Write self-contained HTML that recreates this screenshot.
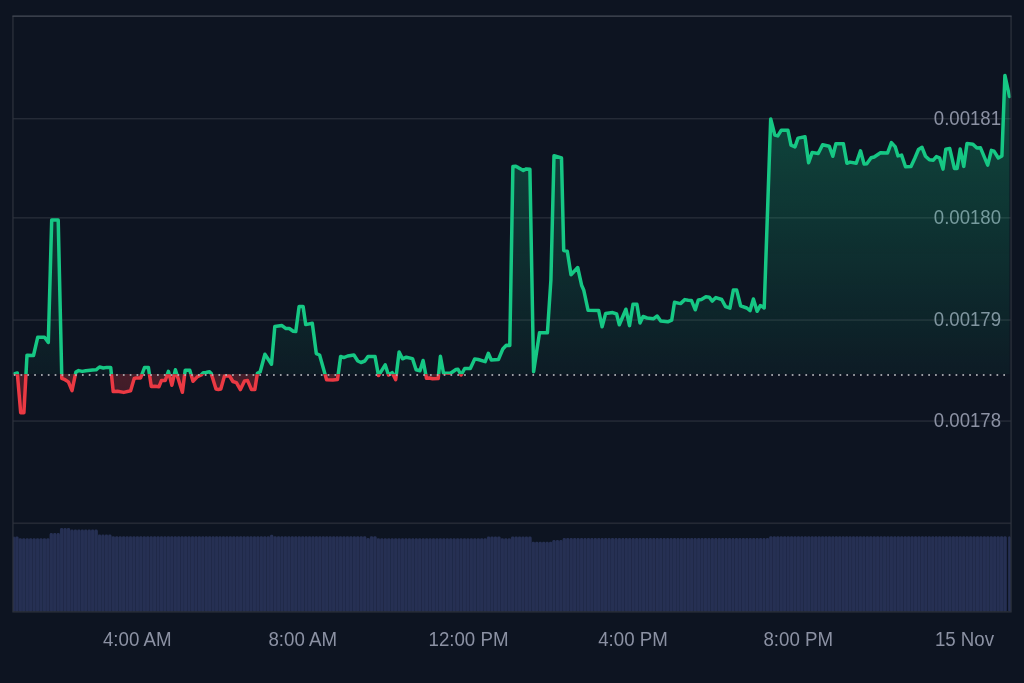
<!DOCTYPE html>
<html><head><meta charset="utf-8"><style>
html,body{margin:0;padding:0;background:#0d1421;width:1024px;height:683px;overflow:hidden}
svg{display:block}
text{font-family:"Liberation Sans",sans-serif;fill:#8b91a3}
.t{will-change:transform}
</style></head><body>
<svg width="1024" height="683" viewBox="0 0 1024 683">
<defs>
<linearGradient id="gf" gradientUnits="userSpaceOnUse" x1="0" y1="16" x2="0" y2="374">
<stop offset="0" stop-color="#16c784" stop-opacity="0.36"/>
<stop offset="1" stop-color="#16c784" stop-opacity="0.045"/>
</linearGradient>
<linearGradient id="rf" gradientUnits="userSpaceOnUse" x1="0" y1="374" x2="0" y2="523">
<stop offset="0" stop-color="#ea3943" stop-opacity="0.26"/>
<stop offset="1" stop-color="#ea3943" stop-opacity="0.06"/>
</linearGradient>
<clipPath id="ca"><rect x="13" y="0" width="998" height="374"/></clipPath>
<clipPath id="cb"><rect x="13" y="374" width="998" height="149"/></clipPath>
<clipPath id="la"><rect x="0" y="0" width="1024" height="374.2"/></clipPath>
<clipPath id="lb"><rect x="0" y="374.2" width="1024" height="148.8"/></clipPath>
</defs>
<rect width="1024" height="683" fill="#0d1421"/>
<g fill="#292e3a"><rect x="13" y="118.1" width="998" height="1.3"/><rect x="13" y="217.2" width="998" height="1.3"/><rect x="13" y="319.4" width="998" height="1.3"/><rect x="13" y="420.4" width="998" height="1.3"/></g>
<rect x="13" y="522.4" width="998" height="1.7" fill="#242934"/>
<g class="t"><text transform="translate(1001 124.6) scale(1 1.05)" text-anchor="end" font-size="18.6">0.00181</text><text transform="translate(1001 223.7) scale(1 1.05)" text-anchor="end" font-size="18.6">0.00180</text><text transform="translate(1001 325.9) scale(1 1.05)" text-anchor="end" font-size="18.6">0.00179</text><text transform="translate(1001 426.9) scale(1 1.05)" text-anchor="end" font-size="18.6">0.00178</text></g>
<g fill="#222b4a"><rect x="13" y="537.6" width="2.16" height="73.6"/><rect x="15.16" y="537.6" width="3.44" height="73.6"/><rect x="18.6" y="539.4" width="3.44" height="71.8"/><rect x="22.05" y="539.4" width="3.44" height="71.8"/><rect x="25.49" y="539.4" width="3.44" height="71.8"/><rect x="28.93" y="539.4" width="3.44" height="71.8"/><rect x="32.38" y="539.4" width="3.44" height="71.8"/><rect x="35.82" y="539.4" width="3.44" height="71.8"/><rect x="39.26" y="539.4" width="3.44" height="71.8"/><rect x="42.71" y="539.4" width="3.44" height="71.8"/><rect x="46.15" y="539.4" width="3.44" height="71.8"/><rect x="49.59" y="534.3" width="3.44" height="76.9"/><rect x="53.03" y="534.3" width="3.44" height="76.9"/><rect x="56.48" y="534.3" width="3.44" height="76.9"/><rect x="59.92" y="529.2" width="3.44" height="82"/><rect x="63.36" y="529.2" width="3.44" height="82"/><rect x="66.81" y="529.2" width="3.44" height="82"/><rect x="70.25" y="530.8" width="3.44" height="80.4"/><rect x="73.69" y="530.8" width="3.44" height="80.4"/><rect x="77.14" y="530.8" width="3.44" height="80.4"/><rect x="80.58" y="530.8" width="3.44" height="80.4"/><rect x="84.02" y="530.8" width="3.44" height="80.4"/><rect x="87.46" y="530.8" width="3.44" height="80.4"/><rect x="90.91" y="530.8" width="3.44" height="80.4"/><rect x="94.35" y="530.8" width="3.44" height="80.4"/><rect x="97.79" y="535.8" width="3.44" height="75.4"/><rect x="101.24" y="535.8" width="3.44" height="75.4"/><rect x="104.68" y="535.8" width="3.44" height="75.4"/><rect x="108.12" y="535.8" width="3.44" height="75.4"/><rect x="111.57" y="537.4" width="3.44" height="73.8"/><rect x="115.01" y="537.4" width="3.44" height="73.8"/><rect x="118.45" y="537.4" width="3.44" height="73.8"/><rect x="121.89" y="537.4" width="3.44" height="73.8"/><rect x="125.34" y="537.4" width="3.44" height="73.8"/><rect x="128.78" y="537.4" width="3.44" height="73.8"/><rect x="132.22" y="537.4" width="3.44" height="73.8"/><rect x="135.67" y="537.4" width="3.44" height="73.8"/><rect x="139.11" y="537.4" width="3.44" height="73.8"/><rect x="142.55" y="537.4" width="3.44" height="73.8"/><rect x="146" y="537.4" width="3.44" height="73.8"/><rect x="149.44" y="537.4" width="3.44" height="73.8"/><rect x="152.88" y="537.4" width="3.44" height="73.8"/><rect x="156.32" y="537.4" width="3.44" height="73.8"/><rect x="159.77" y="537.4" width="3.44" height="73.8"/><rect x="163.21" y="537.4" width="3.44" height="73.8"/><rect x="166.65" y="537.4" width="3.44" height="73.8"/><rect x="170.1" y="537.4" width="3.44" height="73.8"/><rect x="173.54" y="537.4" width="3.44" height="73.8"/><rect x="176.98" y="537.4" width="3.44" height="73.8"/><rect x="180.43" y="537.4" width="3.44" height="73.8"/><rect x="183.87" y="537.4" width="3.44" height="73.8"/><rect x="187.31" y="537.4" width="3.44" height="73.8"/><rect x="190.75" y="537.4" width="3.44" height="73.8"/><rect x="194.2" y="537.4" width="3.44" height="73.8"/><rect x="197.64" y="537.4" width="3.44" height="73.8"/><rect x="201.08" y="537.4" width="3.44" height="73.8"/><rect x="204.53" y="537.4" width="3.44" height="73.8"/><rect x="207.97" y="537.4" width="3.44" height="73.8"/><rect x="211.41" y="537.4" width="3.44" height="73.8"/><rect x="214.86" y="537.4" width="3.44" height="73.8"/><rect x="218.3" y="537.4" width="3.44" height="73.8"/><rect x="221.74" y="537.4" width="3.44" height="73.8"/><rect x="225.18" y="537.4" width="3.44" height="73.8"/><rect x="228.63" y="537.4" width="3.44" height="73.8"/><rect x="232.07" y="537.4" width="3.44" height="73.8"/><rect x="235.51" y="537.4" width="3.44" height="73.8"/><rect x="238.96" y="537.4" width="3.44" height="73.8"/><rect x="242.4" y="537.4" width="3.44" height="73.8"/><rect x="245.84" y="537.4" width="3.44" height="73.8"/><rect x="249.29" y="537.4" width="3.44" height="73.8"/><rect x="252.73" y="537.4" width="3.44" height="73.8"/><rect x="256.17" y="537.4" width="3.44" height="73.8"/><rect x="259.61" y="537.4" width="3.44" height="73.8"/><rect x="263.06" y="537.4" width="3.44" height="73.8"/><rect x="266.5" y="537.4" width="3.44" height="73.8"/><rect x="269.94" y="536" width="3.44" height="75.2"/><rect x="273.39" y="537.5" width="3.44" height="73.7"/><rect x="276.83" y="537.5" width="3.44" height="73.7"/><rect x="280.27" y="537.5" width="3.44" height="73.7"/><rect x="283.72" y="537.5" width="3.44" height="73.7"/><rect x="287.16" y="537.5" width="3.44" height="73.7"/><rect x="290.6" y="537.5" width="3.44" height="73.7"/><rect x="294.04" y="537.5" width="3.44" height="73.7"/><rect x="297.49" y="537.5" width="3.44" height="73.7"/><rect x="300.93" y="537.5" width="3.44" height="73.7"/><rect x="304.37" y="537.5" width="3.44" height="73.7"/><rect x="307.82" y="537.5" width="3.44" height="73.7"/><rect x="311.26" y="537.5" width="3.44" height="73.7"/><rect x="314.7" y="537.5" width="3.44" height="73.7"/><rect x="318.15" y="537.5" width="3.44" height="73.7"/><rect x="321.59" y="537.5" width="3.44" height="73.7"/><rect x="325.03" y="537.5" width="3.44" height="73.7"/><rect x="328.47" y="537.5" width="3.44" height="73.7"/><rect x="331.92" y="537.5" width="3.44" height="73.7"/><rect x="335.36" y="537.5" width="3.44" height="73.7"/><rect x="338.8" y="537.5" width="3.44" height="73.7"/><rect x="342.25" y="537.5" width="3.44" height="73.7"/><rect x="345.69" y="537.5" width="3.44" height="73.7"/><rect x="349.13" y="537.5" width="3.44" height="73.7"/><rect x="352.58" y="537.5" width="3.44" height="73.7"/><rect x="356.02" y="537.5" width="3.44" height="73.7"/><rect x="359.46" y="537.5" width="3.44" height="73.7"/><rect x="362.9" y="537.5" width="3.44" height="73.7"/><rect x="366.35" y="539.2" width="3.44" height="72"/><rect x="369.79" y="537.5" width="3.44" height="73.7"/><rect x="373.23" y="537.5" width="3.44" height="73.7"/><rect x="376.68" y="539.5" width="3.44" height="71.7"/><rect x="380.12" y="539.5" width="3.44" height="71.7"/><rect x="383.56" y="539.5" width="3.44" height="71.7"/><rect x="387.01" y="539.5" width="3.44" height="71.7"/><rect x="390.45" y="539.5" width="3.44" height="71.7"/><rect x="393.89" y="539.5" width="3.44" height="71.7"/><rect x="397.33" y="539.5" width="3.44" height="71.7"/><rect x="400.78" y="539.5" width="3.44" height="71.7"/><rect x="404.22" y="539.5" width="3.44" height="71.7"/><rect x="407.66" y="539.5" width="3.44" height="71.7"/><rect x="411.11" y="539.5" width="3.44" height="71.7"/><rect x="414.55" y="539.5" width="3.44" height="71.7"/><rect x="417.99" y="539.5" width="3.44" height="71.7"/><rect x="421.44" y="539.5" width="3.44" height="71.7"/><rect x="424.88" y="539.5" width="3.44" height="71.7"/><rect x="428.32" y="539.5" width="3.44" height="71.7"/><rect x="431.76" y="539.5" width="3.44" height="71.7"/><rect x="435.21" y="539.5" width="3.44" height="71.7"/><rect x="438.65" y="539.5" width="3.44" height="71.7"/><rect x="442.09" y="539.5" width="3.44" height="71.7"/><rect x="445.54" y="539.5" width="3.44" height="71.7"/><rect x="448.98" y="539.5" width="3.44" height="71.7"/><rect x="452.42" y="539.5" width="3.44" height="71.7"/><rect x="455.87" y="539.5" width="3.44" height="71.7"/><rect x="459.31" y="539.5" width="3.44" height="71.7"/><rect x="462.75" y="539.5" width="3.44" height="71.7"/><rect x="466.19" y="539.5" width="3.44" height="71.7"/><rect x="469.64" y="539.5" width="3.44" height="71.7"/><rect x="473.08" y="539.5" width="3.44" height="71.7"/><rect x="476.52" y="539.5" width="3.44" height="71.7"/><rect x="479.97" y="539.5" width="3.44" height="71.7"/><rect x="483.41" y="539.5" width="3.44" height="71.7"/><rect x="486.85" y="537.6" width="3.44" height="73.6"/><rect x="490.3" y="537.6" width="3.44" height="73.6"/><rect x="493.74" y="537.6" width="3.44" height="73.6"/><rect x="497.18" y="537.6" width="3.44" height="73.6"/><rect x="500.62" y="539.5" width="3.44" height="71.7"/><rect x="504.07" y="539.5" width="3.44" height="71.7"/><rect x="507.51" y="539.5" width="3.44" height="71.7"/><rect x="510.95" y="537.6" width="3.44" height="73.6"/><rect x="514.4" y="537.6" width="3.44" height="73.6"/><rect x="517.84" y="537.6" width="3.44" height="73.6"/><rect x="521.28" y="537.6" width="3.44" height="73.6"/><rect x="524.73" y="537.6" width="3.44" height="73.6"/><rect x="528.17" y="537.6" width="3.44" height="73.6"/><rect x="531.61" y="542.9" width="3.44" height="68.3"/><rect x="535.05" y="542.9" width="3.44" height="68.3"/><rect x="538.5" y="542.9" width="3.44" height="68.3"/><rect x="541.94" y="542.9" width="3.44" height="68.3"/><rect x="545.38" y="542.9" width="3.44" height="68.3"/><rect x="548.83" y="542.9" width="3.44" height="68.3"/><rect x="552.27" y="541.2" width="3.44" height="70"/><rect x="555.71" y="541.2" width="3.44" height="70"/><rect x="559.16" y="541.2" width="3.44" height="70"/><rect x="562.6" y="539.3" width="3.44" height="71.9"/><rect x="566.04" y="539.3" width="3.44" height="71.9"/><rect x="569.48" y="539.3" width="3.44" height="71.9"/><rect x="572.93" y="539.3" width="3.44" height="71.9"/><rect x="576.37" y="539.3" width="3.44" height="71.9"/><rect x="579.81" y="539.3" width="3.44" height="71.9"/><rect x="583.26" y="539.3" width="3.44" height="71.9"/><rect x="586.7" y="539.3" width="3.44" height="71.9"/><rect x="590.14" y="539.3" width="3.44" height="71.9"/><rect x="593.59" y="539.3" width="3.44" height="71.9"/><rect x="597.03" y="539.3" width="3.44" height="71.9"/><rect x="600.47" y="539.3" width="3.44" height="71.9"/><rect x="603.91" y="539.3" width="3.44" height="71.9"/><rect x="607.36" y="539.3" width="3.44" height="71.9"/><rect x="610.8" y="539.3" width="3.44" height="71.9"/><rect x="614.24" y="539.3" width="3.44" height="71.9"/><rect x="617.69" y="539.3" width="3.44" height="71.9"/><rect x="621.13" y="539.3" width="3.44" height="71.9"/><rect x="624.57" y="539.3" width="3.44" height="71.9"/><rect x="628.02" y="539.3" width="3.44" height="71.9"/><rect x="631.46" y="539.3" width="3.44" height="71.9"/><rect x="634.9" y="539.3" width="3.44" height="71.9"/><rect x="638.34" y="539.3" width="3.44" height="71.9"/><rect x="641.79" y="539.3" width="3.44" height="71.9"/><rect x="645.23" y="539.3" width="3.44" height="71.9"/><rect x="648.67" y="539.3" width="3.44" height="71.9"/><rect x="652.12" y="539.3" width="3.44" height="71.9"/><rect x="655.56" y="539.3" width="3.44" height="71.9"/><rect x="659" y="539.3" width="3.44" height="71.9"/><rect x="662.45" y="539.3" width="3.44" height="71.9"/><rect x="665.89" y="539.3" width="3.44" height="71.9"/><rect x="669.33" y="539.3" width="3.44" height="71.9"/><rect x="672.77" y="539.3" width="3.44" height="71.9"/><rect x="676.22" y="539.3" width="3.44" height="71.9"/><rect x="679.66" y="539.3" width="3.44" height="71.9"/><rect x="683.1" y="539.3" width="3.44" height="71.9"/><rect x="686.55" y="539.3" width="3.44" height="71.9"/><rect x="689.99" y="539.3" width="3.44" height="71.9"/><rect x="693.43" y="539.3" width="3.44" height="71.9"/><rect x="696.88" y="539.3" width="3.44" height="71.9"/><rect x="700.32" y="539.3" width="3.44" height="71.9"/><rect x="703.76" y="539.3" width="3.44" height="71.9"/><rect x="707.2" y="539.3" width="3.44" height="71.9"/><rect x="710.65" y="539.3" width="3.44" height="71.9"/><rect x="714.09" y="539.3" width="3.44" height="71.9"/><rect x="717.53" y="539.3" width="3.44" height="71.9"/><rect x="720.98" y="539.3" width="3.44" height="71.9"/><rect x="724.42" y="539.3" width="3.44" height="71.9"/><rect x="727.86" y="539.3" width="3.44" height="71.9"/><rect x="731.31" y="539.3" width="3.44" height="71.9"/><rect x="734.75" y="539.3" width="3.44" height="71.9"/><rect x="738.19" y="539.3" width="3.44" height="71.9"/><rect x="741.63" y="539.3" width="3.44" height="71.9"/><rect x="745.08" y="539.3" width="3.44" height="71.9"/><rect x="748.52" y="539.3" width="3.44" height="71.9"/><rect x="751.96" y="539.3" width="3.44" height="71.9"/><rect x="755.41" y="539.3" width="3.44" height="71.9"/><rect x="758.85" y="539.3" width="3.44" height="71.9"/><rect x="762.29" y="539.3" width="3.44" height="71.9"/><rect x="765.74" y="539.3" width="3.44" height="71.9"/><rect x="769.18" y="537.4" width="3.44" height="73.8"/><rect x="772.62" y="537.4" width="3.44" height="73.8"/><rect x="776.06" y="537.4" width="3.44" height="73.8"/><rect x="779.51" y="537.4" width="3.44" height="73.8"/><rect x="782.95" y="537.4" width="3.44" height="73.8"/><rect x="786.39" y="537.4" width="3.44" height="73.8"/><rect x="789.84" y="537.4" width="3.44" height="73.8"/><rect x="793.28" y="537.4" width="3.44" height="73.8"/><rect x="796.72" y="537.4" width="3.44" height="73.8"/><rect x="800.17" y="537.4" width="3.44" height="73.8"/><rect x="803.61" y="537.4" width="3.44" height="73.8"/><rect x="807.05" y="537.4" width="3.44" height="73.8"/><rect x="810.49" y="537.4" width="3.44" height="73.8"/><rect x="813.94" y="537.4" width="3.44" height="73.8"/><rect x="817.38" y="537.4" width="3.44" height="73.8"/><rect x="820.82" y="537.4" width="3.44" height="73.8"/><rect x="824.27" y="537.4" width="3.44" height="73.8"/><rect x="827.71" y="537.4" width="3.44" height="73.8"/><rect x="831.15" y="537.4" width="3.44" height="73.8"/><rect x="834.6" y="537.4" width="3.44" height="73.8"/><rect x="838.04" y="537.4" width="3.44" height="73.8"/><rect x="841.48" y="537.4" width="3.44" height="73.8"/><rect x="844.92" y="537.4" width="3.44" height="73.8"/><rect x="848.37" y="537.4" width="3.44" height="73.8"/><rect x="851.81" y="537.4" width="3.44" height="73.8"/><rect x="855.25" y="537.4" width="3.44" height="73.8"/><rect x="858.7" y="537.4" width="3.44" height="73.8"/><rect x="862.14" y="537.4" width="3.44" height="73.8"/><rect x="865.58" y="537.4" width="3.44" height="73.8"/><rect x="869.03" y="537.4" width="3.44" height="73.8"/><rect x="872.47" y="537.4" width="3.44" height="73.8"/><rect x="875.91" y="537.4" width="3.44" height="73.8"/><rect x="879.35" y="537.4" width="3.44" height="73.8"/><rect x="882.8" y="537.4" width="3.44" height="73.8"/><rect x="886.24" y="537.4" width="3.44" height="73.8"/><rect x="889.68" y="537.4" width="3.44" height="73.8"/><rect x="893.13" y="537.4" width="3.44" height="73.8"/><rect x="896.57" y="537.4" width="3.44" height="73.8"/><rect x="900.01" y="537.4" width="3.44" height="73.8"/><rect x="903.46" y="537.4" width="3.44" height="73.8"/><rect x="906.9" y="537.4" width="3.44" height="73.8"/><rect x="910.34" y="537.4" width="3.44" height="73.8"/><rect x="913.78" y="537.4" width="3.44" height="73.8"/><rect x="917.23" y="537.4" width="3.44" height="73.8"/><rect x="920.67" y="537.4" width="3.44" height="73.8"/><rect x="924.11" y="537.4" width="3.44" height="73.8"/><rect x="927.56" y="537.4" width="3.44" height="73.8"/><rect x="931" y="537.4" width="3.44" height="73.8"/><rect x="934.44" y="537.4" width="3.44" height="73.8"/><rect x="937.89" y="537.4" width="3.44" height="73.8"/><rect x="941.33" y="537.4" width="3.44" height="73.8"/><rect x="944.77" y="537.4" width="3.44" height="73.8"/><rect x="948.21" y="537.4" width="3.44" height="73.8"/><rect x="951.66" y="537.4" width="3.44" height="73.8"/><rect x="955.1" y="537.4" width="3.44" height="73.8"/><rect x="958.54" y="537.4" width="3.44" height="73.8"/><rect x="961.99" y="537.4" width="3.44" height="73.8"/><rect x="965.43" y="537.4" width="3.44" height="73.8"/><rect x="968.87" y="537.4" width="3.44" height="73.8"/><rect x="972.32" y="537.4" width="3.44" height="73.8"/><rect x="975.76" y="537.4" width="3.44" height="73.8"/><rect x="979.2" y="537.4" width="3.44" height="73.8"/><rect x="982.64" y="537.4" width="3.44" height="73.8"/><rect x="986.09" y="537.4" width="3.44" height="73.8"/><rect x="989.53" y="537.4" width="3.44" height="73.8"/><rect x="992.97" y="537.4" width="3.44" height="73.8"/><rect x="996.42" y="537.4" width="3.44" height="73.8"/><rect x="999.86" y="537.4" width="3.44" height="73.8"/><rect x="1003.3" y="537.4" width="3.44" height="73.8"/><rect x="1008.3" y="537.5" width="2.7" height="73.7"/></g>
<g fill="#263053"><rect x="13" y="536.4" width="1.94" height="74.8" rx="1" ry="1"/><rect x="15.38" y="536.4" width="3" height="74.8" rx="1" ry="1"/><rect x="18.83" y="538.2" width="3" height="73" rx="1" ry="1"/><rect x="22.27" y="538.2" width="3" height="73" rx="1" ry="1"/><rect x="25.71" y="538.2" width="3" height="73" rx="1" ry="1"/><rect x="29.16" y="538.2" width="3" height="73" rx="1" ry="1"/><rect x="32.6" y="538.2" width="3" height="73" rx="1" ry="1"/><rect x="36.04" y="538.2" width="3" height="73" rx="1" ry="1"/><rect x="39.48" y="538.2" width="3" height="73" rx="1" ry="1"/><rect x="42.93" y="538.2" width="3" height="73" rx="1" ry="1"/><rect x="46.37" y="538.2" width="3" height="73" rx="1" ry="1"/><rect x="49.81" y="533.1" width="3" height="78.1" rx="1" ry="1"/><rect x="53.26" y="533.1" width="3" height="78.1" rx="1" ry="1"/><rect x="56.7" y="533.1" width="3" height="78.1" rx="1" ry="1"/><rect x="60.14" y="528" width="3" height="83.2" rx="1" ry="1"/><rect x="63.59" y="528" width="3" height="83.2" rx="1" ry="1"/><rect x="67.03" y="528" width="3" height="83.2" rx="1" ry="1"/><rect x="70.47" y="529.6" width="3" height="81.6" rx="1" ry="1"/><rect x="73.91" y="529.6" width="3" height="81.6" rx="1" ry="1"/><rect x="77.36" y="529.6" width="3" height="81.6" rx="1" ry="1"/><rect x="80.8" y="529.6" width="3" height="81.6" rx="1" ry="1"/><rect x="84.24" y="529.6" width="3" height="81.6" rx="1" ry="1"/><rect x="87.69" y="529.6" width="3" height="81.6" rx="1" ry="1"/><rect x="91.13" y="529.6" width="3" height="81.6" rx="1" ry="1"/><rect x="94.57" y="529.6" width="3" height="81.6" rx="1" ry="1"/><rect x="98.02" y="534.6" width="3" height="76.6" rx="1" ry="1"/><rect x="101.46" y="534.6" width="3" height="76.6" rx="1" ry="1"/><rect x="104.9" y="534.6" width="3" height="76.6" rx="1" ry="1"/><rect x="108.34" y="534.6" width="3" height="76.6" rx="1" ry="1"/><rect x="111.79" y="536.2" width="3" height="75" rx="1" ry="1"/><rect x="115.23" y="536.2" width="3" height="75" rx="1" ry="1"/><rect x="118.67" y="536.2" width="3" height="75" rx="1" ry="1"/><rect x="122.12" y="536.2" width="3" height="75" rx="1" ry="1"/><rect x="125.56" y="536.2" width="3" height="75" rx="1" ry="1"/><rect x="129" y="536.2" width="3" height="75" rx="1" ry="1"/><rect x="132.44" y="536.2" width="3" height="75" rx="1" ry="1"/><rect x="135.89" y="536.2" width="3" height="75" rx="1" ry="1"/><rect x="139.33" y="536.2" width="3" height="75" rx="1" ry="1"/><rect x="142.77" y="536.2" width="3" height="75" rx="1" ry="1"/><rect x="146.22" y="536.2" width="3" height="75" rx="1" ry="1"/><rect x="149.66" y="536.2" width="3" height="75" rx="1" ry="1"/><rect x="153.1" y="536.2" width="3" height="75" rx="1" ry="1"/><rect x="156.55" y="536.2" width="3" height="75" rx="1" ry="1"/><rect x="159.99" y="536.2" width="3" height="75" rx="1" ry="1"/><rect x="163.43" y="536.2" width="3" height="75" rx="1" ry="1"/><rect x="166.88" y="536.2" width="3" height="75" rx="1" ry="1"/><rect x="170.32" y="536.2" width="3" height="75" rx="1" ry="1"/><rect x="173.76" y="536.2" width="3" height="75" rx="1" ry="1"/><rect x="177.2" y="536.2" width="3" height="75" rx="1" ry="1"/><rect x="180.65" y="536.2" width="3" height="75" rx="1" ry="1"/><rect x="184.09" y="536.2" width="3" height="75" rx="1" ry="1"/><rect x="187.53" y="536.2" width="3" height="75" rx="1" ry="1"/><rect x="190.98" y="536.2" width="3" height="75" rx="1" ry="1"/><rect x="194.42" y="536.2" width="3" height="75" rx="1" ry="1"/><rect x="197.86" y="536.2" width="3" height="75" rx="1" ry="1"/><rect x="201.31" y="536.2" width="3" height="75" rx="1" ry="1"/><rect x="204.75" y="536.2" width="3" height="75" rx="1" ry="1"/><rect x="208.19" y="536.2" width="3" height="75" rx="1" ry="1"/><rect x="211.63" y="536.2" width="3" height="75" rx="1" ry="1"/><rect x="215.08" y="536.2" width="3" height="75" rx="1" ry="1"/><rect x="218.52" y="536.2" width="3" height="75" rx="1" ry="1"/><rect x="221.96" y="536.2" width="3" height="75" rx="1" ry="1"/><rect x="225.41" y="536.2" width="3" height="75" rx="1" ry="1"/><rect x="228.85" y="536.2" width="3" height="75" rx="1" ry="1"/><rect x="232.29" y="536.2" width="3" height="75" rx="1" ry="1"/><rect x="235.74" y="536.2" width="3" height="75" rx="1" ry="1"/><rect x="239.18" y="536.2" width="3" height="75" rx="1" ry="1"/><rect x="242.62" y="536.2" width="3" height="75" rx="1" ry="1"/><rect x="246.06" y="536.2" width="3" height="75" rx="1" ry="1"/><rect x="249.51" y="536.2" width="3" height="75" rx="1" ry="1"/><rect x="252.95" y="536.2" width="3" height="75" rx="1" ry="1"/><rect x="256.39" y="536.2" width="3" height="75" rx="1" ry="1"/><rect x="259.84" y="536.2" width="3" height="75" rx="1" ry="1"/><rect x="263.28" y="536.2" width="3" height="75" rx="1" ry="1"/><rect x="266.72" y="536.2" width="3" height="75" rx="1" ry="1"/><rect x="270.17" y="534.8" width="3" height="76.4" rx="1" ry="1"/><rect x="273.61" y="536.3" width="3" height="74.9" rx="1" ry="1"/><rect x="277.05" y="536.3" width="3" height="74.9" rx="1" ry="1"/><rect x="280.49" y="536.3" width="3" height="74.9" rx="1" ry="1"/><rect x="283.94" y="536.3" width="3" height="74.9" rx="1" ry="1"/><rect x="287.38" y="536.3" width="3" height="74.9" rx="1" ry="1"/><rect x="290.82" y="536.3" width="3" height="74.9" rx="1" ry="1"/><rect x="294.27" y="536.3" width="3" height="74.9" rx="1" ry="1"/><rect x="297.71" y="536.3" width="3" height="74.9" rx="1" ry="1"/><rect x="301.15" y="536.3" width="3" height="74.9" rx="1" ry="1"/><rect x="304.6" y="536.3" width="3" height="74.9" rx="1" ry="1"/><rect x="308.04" y="536.3" width="3" height="74.9" rx="1" ry="1"/><rect x="311.48" y="536.3" width="3" height="74.9" rx="1" ry="1"/><rect x="314.92" y="536.3" width="3" height="74.9" rx="1" ry="1"/><rect x="318.37" y="536.3" width="3" height="74.9" rx="1" ry="1"/><rect x="321.81" y="536.3" width="3" height="74.9" rx="1" ry="1"/><rect x="325.25" y="536.3" width="3" height="74.9" rx="1" ry="1"/><rect x="328.7" y="536.3" width="3" height="74.9" rx="1" ry="1"/><rect x="332.14" y="536.3" width="3" height="74.9" rx="1" ry="1"/><rect x="335.58" y="536.3" width="3" height="74.9" rx="1" ry="1"/><rect x="339.02" y="536.3" width="3" height="74.9" rx="1" ry="1"/><rect x="342.47" y="536.3" width="3" height="74.9" rx="1" ry="1"/><rect x="345.91" y="536.3" width="3" height="74.9" rx="1" ry="1"/><rect x="349.35" y="536.3" width="3" height="74.9" rx="1" ry="1"/><rect x="352.8" y="536.3" width="3" height="74.9" rx="1" ry="1"/><rect x="356.24" y="536.3" width="3" height="74.9" rx="1" ry="1"/><rect x="359.68" y="536.3" width="3" height="74.9" rx="1" ry="1"/><rect x="363.13" y="536.3" width="3" height="74.9" rx="1" ry="1"/><rect x="366.57" y="538" width="3" height="73.2" rx="1" ry="1"/><rect x="370.01" y="536.3" width="3" height="74.9" rx="1" ry="1"/><rect x="373.45" y="536.3" width="3" height="74.9" rx="1" ry="1"/><rect x="376.9" y="538.3" width="3" height="72.9" rx="1" ry="1"/><rect x="380.34" y="538.3" width="3" height="72.9" rx="1" ry="1"/><rect x="383.78" y="538.3" width="3" height="72.9" rx="1" ry="1"/><rect x="387.23" y="538.3" width="3" height="72.9" rx="1" ry="1"/><rect x="390.67" y="538.3" width="3" height="72.9" rx="1" ry="1"/><rect x="394.11" y="538.3" width="3" height="72.9" rx="1" ry="1"/><rect x="397.56" y="538.3" width="3" height="72.9" rx="1" ry="1"/><rect x="401" y="538.3" width="3" height="72.9" rx="1" ry="1"/><rect x="404.44" y="538.3" width="3" height="72.9" rx="1" ry="1"/><rect x="407.88" y="538.3" width="3" height="72.9" rx="1" ry="1"/><rect x="411.33" y="538.3" width="3" height="72.9" rx="1" ry="1"/><rect x="414.77" y="538.3" width="3" height="72.9" rx="1" ry="1"/><rect x="418.21" y="538.3" width="3" height="72.9" rx="1" ry="1"/><rect x="421.66" y="538.3" width="3" height="72.9" rx="1" ry="1"/><rect x="425.1" y="538.3" width="3" height="72.9" rx="1" ry="1"/><rect x="428.54" y="538.3" width="3" height="72.9" rx="1" ry="1"/><rect x="431.99" y="538.3" width="3" height="72.9" rx="1" ry="1"/><rect x="435.43" y="538.3" width="3" height="72.9" rx="1" ry="1"/><rect x="438.87" y="538.3" width="3" height="72.9" rx="1" ry="1"/><rect x="442.31" y="538.3" width="3" height="72.9" rx="1" ry="1"/><rect x="445.76" y="538.3" width="3" height="72.9" rx="1" ry="1"/><rect x="449.2" y="538.3" width="3" height="72.9" rx="1" ry="1"/><rect x="452.64" y="538.3" width="3" height="72.9" rx="1" ry="1"/><rect x="456.09" y="538.3" width="3" height="72.9" rx="1" ry="1"/><rect x="459.53" y="538.3" width="3" height="72.9" rx="1" ry="1"/><rect x="462.97" y="538.3" width="3" height="72.9" rx="1" ry="1"/><rect x="466.42" y="538.3" width="3" height="72.9" rx="1" ry="1"/><rect x="469.86" y="538.3" width="3" height="72.9" rx="1" ry="1"/><rect x="473.3" y="538.3" width="3" height="72.9" rx="1" ry="1"/><rect x="476.75" y="538.3" width="3" height="72.9" rx="1" ry="1"/><rect x="480.19" y="538.3" width="3" height="72.9" rx="1" ry="1"/><rect x="483.63" y="538.3" width="3" height="72.9" rx="1" ry="1"/><rect x="487.07" y="536.4" width="3" height="74.8" rx="1" ry="1"/><rect x="490.52" y="536.4" width="3" height="74.8" rx="1" ry="1"/><rect x="493.96" y="536.4" width="3" height="74.8" rx="1" ry="1"/><rect x="497.4" y="536.4" width="3" height="74.8" rx="1" ry="1"/><rect x="500.85" y="538.3" width="3" height="72.9" rx="1" ry="1"/><rect x="504.29" y="538.3" width="3" height="72.9" rx="1" ry="1"/><rect x="507.73" y="538.3" width="3" height="72.9" rx="1" ry="1"/><rect x="511.18" y="536.4" width="3" height="74.8" rx="1" ry="1"/><rect x="514.62" y="536.4" width="3" height="74.8" rx="1" ry="1"/><rect x="518.06" y="536.4" width="3" height="74.8" rx="1" ry="1"/><rect x="521.5" y="536.4" width="3" height="74.8" rx="1" ry="1"/><rect x="524.95" y="536.4" width="3" height="74.8" rx="1" ry="1"/><rect x="528.39" y="536.4" width="3" height="74.8" rx="1" ry="1"/><rect x="531.83" y="541.7" width="3" height="69.5" rx="1" ry="1"/><rect x="535.28" y="541.7" width="3" height="69.5" rx="1" ry="1"/><rect x="538.72" y="541.7" width="3" height="69.5" rx="1" ry="1"/><rect x="542.16" y="541.7" width="3" height="69.5" rx="1" ry="1"/><rect x="545.61" y="541.7" width="3" height="69.5" rx="1" ry="1"/><rect x="549.05" y="541.7" width="3" height="69.5" rx="1" ry="1"/><rect x="552.49" y="540" width="3" height="71.2" rx="1" ry="1"/><rect x="555.93" y="540" width="3" height="71.2" rx="1" ry="1"/><rect x="559.38" y="540" width="3" height="71.2" rx="1" ry="1"/><rect x="562.82" y="538.1" width="3" height="73.1" rx="1" ry="1"/><rect x="566.26" y="538.1" width="3" height="73.1" rx="1" ry="1"/><rect x="569.71" y="538.1" width="3" height="73.1" rx="1" ry="1"/><rect x="573.15" y="538.1" width="3" height="73.1" rx="1" ry="1"/><rect x="576.59" y="538.1" width="3" height="73.1" rx="1" ry="1"/><rect x="580.04" y="538.1" width="3" height="73.1" rx="1" ry="1"/><rect x="583.48" y="538.1" width="3" height="73.1" rx="1" ry="1"/><rect x="586.92" y="538.1" width="3" height="73.1" rx="1" ry="1"/><rect x="590.36" y="538.1" width="3" height="73.1" rx="1" ry="1"/><rect x="593.81" y="538.1" width="3" height="73.1" rx="1" ry="1"/><rect x="597.25" y="538.1" width="3" height="73.1" rx="1" ry="1"/><rect x="600.69" y="538.1" width="3" height="73.1" rx="1" ry="1"/><rect x="604.14" y="538.1" width="3" height="73.1" rx="1" ry="1"/><rect x="607.58" y="538.1" width="3" height="73.1" rx="1" ry="1"/><rect x="611.02" y="538.1" width="3" height="73.1" rx="1" ry="1"/><rect x="614.47" y="538.1" width="3" height="73.1" rx="1" ry="1"/><rect x="617.91" y="538.1" width="3" height="73.1" rx="1" ry="1"/><rect x="621.35" y="538.1" width="3" height="73.1" rx="1" ry="1"/><rect x="624.79" y="538.1" width="3" height="73.1" rx="1" ry="1"/><rect x="628.24" y="538.1" width="3" height="73.1" rx="1" ry="1"/><rect x="631.68" y="538.1" width="3" height="73.1" rx="1" ry="1"/><rect x="635.12" y="538.1" width="3" height="73.1" rx="1" ry="1"/><rect x="638.57" y="538.1" width="3" height="73.1" rx="1" ry="1"/><rect x="642.01" y="538.1" width="3" height="73.1" rx="1" ry="1"/><rect x="645.45" y="538.1" width="3" height="73.1" rx="1" ry="1"/><rect x="648.9" y="538.1" width="3" height="73.1" rx="1" ry="1"/><rect x="652.34" y="538.1" width="3" height="73.1" rx="1" ry="1"/><rect x="655.78" y="538.1" width="3" height="73.1" rx="1" ry="1"/><rect x="659.22" y="538.1" width="3" height="73.1" rx="1" ry="1"/><rect x="662.67" y="538.1" width="3" height="73.1" rx="1" ry="1"/><rect x="666.11" y="538.1" width="3" height="73.1" rx="1" ry="1"/><rect x="669.55" y="538.1" width="3" height="73.1" rx="1" ry="1"/><rect x="673" y="538.1" width="3" height="73.1" rx="1" ry="1"/><rect x="676.44" y="538.1" width="3" height="73.1" rx="1" ry="1"/><rect x="679.88" y="538.1" width="3" height="73.1" rx="1" ry="1"/><rect x="683.33" y="538.1" width="3" height="73.1" rx="1" ry="1"/><rect x="686.77" y="538.1" width="3" height="73.1" rx="1" ry="1"/><rect x="690.21" y="538.1" width="3" height="73.1" rx="1" ry="1"/><rect x="693.65" y="538.1" width="3" height="73.1" rx="1" ry="1"/><rect x="697.1" y="538.1" width="3" height="73.1" rx="1" ry="1"/><rect x="700.54" y="538.1" width="3" height="73.1" rx="1" ry="1"/><rect x="703.98" y="538.1" width="3" height="73.1" rx="1" ry="1"/><rect x="707.43" y="538.1" width="3" height="73.1" rx="1" ry="1"/><rect x="710.87" y="538.1" width="3" height="73.1" rx="1" ry="1"/><rect x="714.31" y="538.1" width="3" height="73.1" rx="1" ry="1"/><rect x="717.76" y="538.1" width="3" height="73.1" rx="1" ry="1"/><rect x="721.2" y="538.1" width="3" height="73.1" rx="1" ry="1"/><rect x="724.64" y="538.1" width="3" height="73.1" rx="1" ry="1"/><rect x="728.08" y="538.1" width="3" height="73.1" rx="1" ry="1"/><rect x="731.53" y="538.1" width="3" height="73.1" rx="1" ry="1"/><rect x="734.97" y="538.1" width="3" height="73.1" rx="1" ry="1"/><rect x="738.41" y="538.1" width="3" height="73.1" rx="1" ry="1"/><rect x="741.86" y="538.1" width="3" height="73.1" rx="1" ry="1"/><rect x="745.3" y="538.1" width="3" height="73.1" rx="1" ry="1"/><rect x="748.74" y="538.1" width="3" height="73.1" rx="1" ry="1"/><rect x="752.19" y="538.1" width="3" height="73.1" rx="1" ry="1"/><rect x="755.63" y="538.1" width="3" height="73.1" rx="1" ry="1"/><rect x="759.07" y="538.1" width="3" height="73.1" rx="1" ry="1"/><rect x="762.51" y="538.1" width="3" height="73.1" rx="1" ry="1"/><rect x="765.96" y="538.1" width="3" height="73.1" rx="1" ry="1"/><rect x="769.4" y="536.2" width="3" height="75" rx="1" ry="1"/><rect x="772.84" y="536.2" width="3" height="75" rx="1" ry="1"/><rect x="776.29" y="536.2" width="3" height="75" rx="1" ry="1"/><rect x="779.73" y="536.2" width="3" height="75" rx="1" ry="1"/><rect x="783.17" y="536.2" width="3" height="75" rx="1" ry="1"/><rect x="786.62" y="536.2" width="3" height="75" rx="1" ry="1"/><rect x="790.06" y="536.2" width="3" height="75" rx="1" ry="1"/><rect x="793.5" y="536.2" width="3" height="75" rx="1" ry="1"/><rect x="796.94" y="536.2" width="3" height="75" rx="1" ry="1"/><rect x="800.39" y="536.2" width="3" height="75" rx="1" ry="1"/><rect x="803.83" y="536.2" width="3" height="75" rx="1" ry="1"/><rect x="807.27" y="536.2" width="3" height="75" rx="1" ry="1"/><rect x="810.72" y="536.2" width="3" height="75" rx="1" ry="1"/><rect x="814.16" y="536.2" width="3" height="75" rx="1" ry="1"/><rect x="817.6" y="536.2" width="3" height="75" rx="1" ry="1"/><rect x="821.05" y="536.2" width="3" height="75" rx="1" ry="1"/><rect x="824.49" y="536.2" width="3" height="75" rx="1" ry="1"/><rect x="827.93" y="536.2" width="3" height="75" rx="1" ry="1"/><rect x="831.37" y="536.2" width="3" height="75" rx="1" ry="1"/><rect x="834.82" y="536.2" width="3" height="75" rx="1" ry="1"/><rect x="838.26" y="536.2" width="3" height="75" rx="1" ry="1"/><rect x="841.7" y="536.2" width="3" height="75" rx="1" ry="1"/><rect x="845.15" y="536.2" width="3" height="75" rx="1" ry="1"/><rect x="848.59" y="536.2" width="3" height="75" rx="1" ry="1"/><rect x="852.03" y="536.2" width="3" height="75" rx="1" ry="1"/><rect x="855.48" y="536.2" width="3" height="75" rx="1" ry="1"/><rect x="858.92" y="536.2" width="3" height="75" rx="1" ry="1"/><rect x="862.36" y="536.2" width="3" height="75" rx="1" ry="1"/><rect x="865.8" y="536.2" width="3" height="75" rx="1" ry="1"/><rect x="869.25" y="536.2" width="3" height="75" rx="1" ry="1"/><rect x="872.69" y="536.2" width="3" height="75" rx="1" ry="1"/><rect x="876.13" y="536.2" width="3" height="75" rx="1" ry="1"/><rect x="879.58" y="536.2" width="3" height="75" rx="1" ry="1"/><rect x="883.02" y="536.2" width="3" height="75" rx="1" ry="1"/><rect x="886.46" y="536.2" width="3" height="75" rx="1" ry="1"/><rect x="889.91" y="536.2" width="3" height="75" rx="1" ry="1"/><rect x="893.35" y="536.2" width="3" height="75" rx="1" ry="1"/><rect x="896.79" y="536.2" width="3" height="75" rx="1" ry="1"/><rect x="900.23" y="536.2" width="3" height="75" rx="1" ry="1"/><rect x="903.68" y="536.2" width="3" height="75" rx="1" ry="1"/><rect x="907.12" y="536.2" width="3" height="75" rx="1" ry="1"/><rect x="910.56" y="536.2" width="3" height="75" rx="1" ry="1"/><rect x="914.01" y="536.2" width="3" height="75" rx="1" ry="1"/><rect x="917.45" y="536.2" width="3" height="75" rx="1" ry="1"/><rect x="920.89" y="536.2" width="3" height="75" rx="1" ry="1"/><rect x="924.34" y="536.2" width="3" height="75" rx="1" ry="1"/><rect x="927.78" y="536.2" width="3" height="75" rx="1" ry="1"/><rect x="931.22" y="536.2" width="3" height="75" rx="1" ry="1"/><rect x="934.66" y="536.2" width="3" height="75" rx="1" ry="1"/><rect x="938.11" y="536.2" width="3" height="75" rx="1" ry="1"/><rect x="941.55" y="536.2" width="3" height="75" rx="1" ry="1"/><rect x="944.99" y="536.2" width="3" height="75" rx="1" ry="1"/><rect x="948.44" y="536.2" width="3" height="75" rx="1" ry="1"/><rect x="951.88" y="536.2" width="3" height="75" rx="1" ry="1"/><rect x="955.32" y="536.2" width="3" height="75" rx="1" ry="1"/><rect x="958.77" y="536.2" width="3" height="75" rx="1" ry="1"/><rect x="962.21" y="536.2" width="3" height="75" rx="1" ry="1"/><rect x="965.65" y="536.2" width="3" height="75" rx="1" ry="1"/><rect x="969.09" y="536.2" width="3" height="75" rx="1" ry="1"/><rect x="972.54" y="536.2" width="3" height="75" rx="1" ry="1"/><rect x="975.98" y="536.2" width="3" height="75" rx="1" ry="1"/><rect x="979.42" y="536.2" width="3" height="75" rx="1" ry="1"/><rect x="982.87" y="536.2" width="3" height="75" rx="1" ry="1"/><rect x="986.31" y="536.2" width="3" height="75" rx="1" ry="1"/><rect x="989.75" y="536.2" width="3" height="75" rx="1" ry="1"/><rect x="993.2" y="536.2" width="3" height="75" rx="1" ry="1"/><rect x="996.64" y="536.2" width="3" height="75" rx="1" ry="1"/><rect x="1000.08" y="536.2" width="3" height="75" rx="1" ry="1"/><rect x="1003.52" y="536.2" width="3" height="75" rx="1" ry="1"/><rect x="1008.3" y="536.3" width="2.1" height="74.9" rx="1" ry="1"/></g>
<path d="M14.6 373.6 L17.3 373 L20.7 412.7 L23.9 412.7 L27 355.2 L33.5 355.5 L37.7 337.3 L44.5 337.3 L48.3 342.5 L51.7 220 L58.2 220 L61.8 378.4 L65 379.7 L68.4 381.9 L72 390.6 L75.9 372 L78.6 370.6 L82.3 371.4 L85.8 370.7 L92.6 370 L96.1 369.8 L99.5 367 L103.4 368 L106.8 367.4 L110.7 367.4 L113.2 391.5 L117.5 391.2 L123.75 392.4 L130.6 390.8 L134.2 378.5 L136 378 L140.6 378 L144.5 367.5 L148.4 367.5 L151.3 386.5 L155 386.3 L158.9 386.8 L161.4 380.6 L165.3 380.4 L168.4 371.3 L171.9 385.2 L175.4 369.8 L182.4 392.3 L185.2 370.2 L189.8 370.2 L193 381.3 L197.5 376.6 L201.2 375 L203.3 372.8 L206 372.5 L209.5 371.8 L211.2 373.5 L216 389 L218.4 389.5 L220.8 389 L224.5 376 L229.6 376 L232.9 381.5 L236.4 382.6 L240.4 389.6 L244.5 381 L247.6 380.6 L251.5 389.6 L254.8 389.6 L257.4 373.3 L260.2 371.8 L264.9 354.3 L271.5 364.2 L274.8 326.6 L282 325.6 L286 328.6 L289.3 328.5 L293.2 331.2 L295.8 331.5 L299.1 306.6 L303.1 306.6 L305.7 324.6 L312.3 323.3 L316.3 353.6 L319.6 355 L326.6 379.8 L332.8 380 L337.5 379.5 L340.6 356.4 L343.75 357.6 L347.7 356 L353.9 355 L357.8 361 L361 362.5 L364.8 361 L368 356.4 L375 356.4 L378.5 375.6 L385.2 364.8 L388.5 375 L392.2 372.6 L395.7 379.6 L399.1 352 L402.5 358.8 L406.3 357.2 L412.5 358.6 L416.1 369.7 L420 370.8 L423.1 360.5 L426.5 378.3 L429.4 378 L432.5 378.8 L438.2 378.5 L440.4 356.3 L443.5 373 L449.5 373.3 L452 372.3 L456 369.5 L458 369.2 L461.1 375 L464.7 368.5 L470.3 368.6 L474.7 359 L478.2 359.5 L485.2 361.6 L488.3 353.3 L491.3 360 L498.4 359.6 L502.8 349 L506.3 345.3 L509.8 345.5 L512.9 166.6 L515.8 166.2 L523.3 170.5 L526.3 168.9 L529.9 169.3 L533.6 371.8 L539.5 332.8 L547.4 332.8 L550.9 280 L554 155.8 L561.5 158 L563.7 250.5 L567.3 251.2 L571 274.7 L577.7 267.5 L581.6 285.2 L583.8 290.3 L588.1 310.3 L598.6 310.4 L602.1 326.8 L605.6 313.6 L612.7 312.6 L616.6 314 L619.3 324.8 L625.9 309.2 L629.5 325.6 L633 304.2 L636.9 304.2 L640 322.9 L643.1 316.5 L647 318 L653.3 318.8 L657.2 316 L660.7 320.9 L667.8 321.8 L671.7 320.2 L674.5 302.3 L680.5 303.6 L684.8 299.6 L688.1 300.3 L691.4 300.4 L695.3 309.8 L698.3 299.9 L701.4 299.5 L705.9 296.8 L709.2 297.2 L712.3 301.1 L715.9 297.6 L721.7 299.5 L725.6 306.6 L729.9 308.1 L733.4 289.9 L736.6 289.9 L740.6 305.8 L746.8 308 L750.1 310.6 L753.4 299 L757.1 311.3 L760.3 305.6 L762.1 306.4 L764.2 308 L770.7 118.9 L774.8 135 L777.8 135.9 L781.3 130.2 L787.9 130.2 L791 145.1 L795 146.9 L798 138.1 L805 136.8 L808.6 162.7 L812.1 152.6 L818.2 153.5 L822.6 144.7 L829.2 146.2 L832.8 156.25 L835.9 143.75 L843.4 143.75 L846.9 163.3 L850 162.1 L856.25 163.3 L860.5 150.8 L864.1 164.1 L866.8 163.7 L871.1 157.8 L874.2 157 L880.5 152.7 L887.5 153.1 L891.4 142.6 L895.3 146.9 L898 155.9 L901.6 155.1 L905.5 166.8 L911 166.4 L914.8 158.2 L918.5 149.5 L922 147.3 L925.5 156.25 L929.4 159.8 L933.3 160.2 L936.4 156.6 L939.5 157.8 L943 169.1 L945.8 149.2 L949.7 148.4 L954.4 168.4 L957.1 168.4 L960.2 149 L963.75 166.4 L967 143.5 L972.9 144.2 L976.9 148.1 L980.5 147.8 L987.7 165.2 L991.4 150.4 L994 151.1 L998.3 158 L1001.9 156 L1004.9 75.4 L1009.5 96.5 L1009.5 374 L14.6 374 Z" fill="url(#gf)" clip-path="url(#ca)"/>
<path d="M14.6 373.6 L17.3 373 L20.7 412.7 L23.9 412.7 L27 355.2 L33.5 355.5 L37.7 337.3 L44.5 337.3 L48.3 342.5 L51.7 220 L58.2 220 L61.8 378.4 L65 379.7 L68.4 381.9 L72 390.6 L75.9 372 L78.6 370.6 L82.3 371.4 L85.8 370.7 L92.6 370 L96.1 369.8 L99.5 367 L103.4 368 L106.8 367.4 L110.7 367.4 L113.2 391.5 L117.5 391.2 L123.75 392.4 L130.6 390.8 L134.2 378.5 L136 378 L140.6 378 L144.5 367.5 L148.4 367.5 L151.3 386.5 L155 386.3 L158.9 386.8 L161.4 380.6 L165.3 380.4 L168.4 371.3 L171.9 385.2 L175.4 369.8 L182.4 392.3 L185.2 370.2 L189.8 370.2 L193 381.3 L197.5 376.6 L201.2 375 L203.3 372.8 L206 372.5 L209.5 371.8 L211.2 373.5 L216 389 L218.4 389.5 L220.8 389 L224.5 376 L229.6 376 L232.9 381.5 L236.4 382.6 L240.4 389.6 L244.5 381 L247.6 380.6 L251.5 389.6 L254.8 389.6 L257.4 373.3 L260.2 371.8 L264.9 354.3 L271.5 364.2 L274.8 326.6 L282 325.6 L286 328.6 L289.3 328.5 L293.2 331.2 L295.8 331.5 L299.1 306.6 L303.1 306.6 L305.7 324.6 L312.3 323.3 L316.3 353.6 L319.6 355 L326.6 379.8 L332.8 380 L337.5 379.5 L340.6 356.4 L343.75 357.6 L347.7 356 L353.9 355 L357.8 361 L361 362.5 L364.8 361 L368 356.4 L375 356.4 L378.5 375.6 L385.2 364.8 L388.5 375 L392.2 372.6 L395.7 379.6 L399.1 352 L402.5 358.8 L406.3 357.2 L412.5 358.6 L416.1 369.7 L420 370.8 L423.1 360.5 L426.5 378.3 L429.4 378 L432.5 378.8 L438.2 378.5 L440.4 356.3 L443.5 373 L449.5 373.3 L452 372.3 L456 369.5 L458 369.2 L461.1 375 L464.7 368.5 L470.3 368.6 L474.7 359 L478.2 359.5 L485.2 361.6 L488.3 353.3 L491.3 360 L498.4 359.6 L502.8 349 L506.3 345.3 L509.8 345.5 L512.9 166.6 L515.8 166.2 L523.3 170.5 L526.3 168.9 L529.9 169.3 L533.6 371.8 L539.5 332.8 L547.4 332.8 L550.9 280 L554 155.8 L561.5 158 L563.7 250.5 L567.3 251.2 L571 274.7 L577.7 267.5 L581.6 285.2 L583.8 290.3 L588.1 310.3 L598.6 310.4 L602.1 326.8 L605.6 313.6 L612.7 312.6 L616.6 314 L619.3 324.8 L625.9 309.2 L629.5 325.6 L633 304.2 L636.9 304.2 L640 322.9 L643.1 316.5 L647 318 L653.3 318.8 L657.2 316 L660.7 320.9 L667.8 321.8 L671.7 320.2 L674.5 302.3 L680.5 303.6 L684.8 299.6 L688.1 300.3 L691.4 300.4 L695.3 309.8 L698.3 299.9 L701.4 299.5 L705.9 296.8 L709.2 297.2 L712.3 301.1 L715.9 297.6 L721.7 299.5 L725.6 306.6 L729.9 308.1 L733.4 289.9 L736.6 289.9 L740.6 305.8 L746.8 308 L750.1 310.6 L753.4 299 L757.1 311.3 L760.3 305.6 L762.1 306.4 L764.2 308 L770.7 118.9 L774.8 135 L777.8 135.9 L781.3 130.2 L787.9 130.2 L791 145.1 L795 146.9 L798 138.1 L805 136.8 L808.6 162.7 L812.1 152.6 L818.2 153.5 L822.6 144.7 L829.2 146.2 L832.8 156.25 L835.9 143.75 L843.4 143.75 L846.9 163.3 L850 162.1 L856.25 163.3 L860.5 150.8 L864.1 164.1 L866.8 163.7 L871.1 157.8 L874.2 157 L880.5 152.7 L887.5 153.1 L891.4 142.6 L895.3 146.9 L898 155.9 L901.6 155.1 L905.5 166.8 L911 166.4 L914.8 158.2 L918.5 149.5 L922 147.3 L925.5 156.25 L929.4 159.8 L933.3 160.2 L936.4 156.6 L939.5 157.8 L943 169.1 L945.8 149.2 L949.7 148.4 L954.4 168.4 L957.1 168.4 L960.2 149 L963.75 166.4 L967 143.5 L972.9 144.2 L976.9 148.1 L980.5 147.8 L987.7 165.2 L991.4 150.4 L994 151.1 L998.3 158 L1001.9 156 L1004.9 75.4 L1009.5 96.5 L1009.5 374 L14.6 374 Z" fill="url(#rf)" clip-path="url(#cb)"/>
<path d="M14.6 373.6 L17.3 373 L20.7 412.7 L23.9 412.7 L27 355.2 L33.5 355.5 L37.7 337.3 L44.5 337.3 L48.3 342.5 L51.7 220 L58.2 220 L61.8 378.4 L65 379.7 L68.4 381.9 L72 390.6 L75.9 372 L78.6 370.6 L82.3 371.4 L85.8 370.7 L92.6 370 L96.1 369.8 L99.5 367 L103.4 368 L106.8 367.4 L110.7 367.4 L113.2 391.5 L117.5 391.2 L123.75 392.4 L130.6 390.8 L134.2 378.5 L136 378 L140.6 378 L144.5 367.5 L148.4 367.5 L151.3 386.5 L155 386.3 L158.9 386.8 L161.4 380.6 L165.3 380.4 L168.4 371.3 L171.9 385.2 L175.4 369.8 L182.4 392.3 L185.2 370.2 L189.8 370.2 L193 381.3 L197.5 376.6 L201.2 375 L203.3 372.8 L206 372.5 L209.5 371.8 L211.2 373.5 L216 389 L218.4 389.5 L220.8 389 L224.5 376 L229.6 376 L232.9 381.5 L236.4 382.6 L240.4 389.6 L244.5 381 L247.6 380.6 L251.5 389.6 L254.8 389.6 L257.4 373.3 L260.2 371.8 L264.9 354.3 L271.5 364.2 L274.8 326.6 L282 325.6 L286 328.6 L289.3 328.5 L293.2 331.2 L295.8 331.5 L299.1 306.6 L303.1 306.6 L305.7 324.6 L312.3 323.3 L316.3 353.6 L319.6 355 L326.6 379.8 L332.8 380 L337.5 379.5 L340.6 356.4 L343.75 357.6 L347.7 356 L353.9 355 L357.8 361 L361 362.5 L364.8 361 L368 356.4 L375 356.4 L378.5 375.6 L385.2 364.8 L388.5 375 L392.2 372.6 L395.7 379.6 L399.1 352 L402.5 358.8 L406.3 357.2 L412.5 358.6 L416.1 369.7 L420 370.8 L423.1 360.5 L426.5 378.3 L429.4 378 L432.5 378.8 L438.2 378.5 L440.4 356.3 L443.5 373 L449.5 373.3 L452 372.3 L456 369.5 L458 369.2 L461.1 375 L464.7 368.5 L470.3 368.6 L474.7 359 L478.2 359.5 L485.2 361.6 L488.3 353.3 L491.3 360 L498.4 359.6 L502.8 349 L506.3 345.3 L509.8 345.5 L512.9 166.6 L515.8 166.2 L523.3 170.5 L526.3 168.9 L529.9 169.3 L533.6 371.8 L539.5 332.8 L547.4 332.8 L550.9 280 L554 155.8 L561.5 158 L563.7 250.5 L567.3 251.2 L571 274.7 L577.7 267.5 L581.6 285.2 L583.8 290.3 L588.1 310.3 L598.6 310.4 L602.1 326.8 L605.6 313.6 L612.7 312.6 L616.6 314 L619.3 324.8 L625.9 309.2 L629.5 325.6 L633 304.2 L636.9 304.2 L640 322.9 L643.1 316.5 L647 318 L653.3 318.8 L657.2 316 L660.7 320.9 L667.8 321.8 L671.7 320.2 L674.5 302.3 L680.5 303.6 L684.8 299.6 L688.1 300.3 L691.4 300.4 L695.3 309.8 L698.3 299.9 L701.4 299.5 L705.9 296.8 L709.2 297.2 L712.3 301.1 L715.9 297.6 L721.7 299.5 L725.6 306.6 L729.9 308.1 L733.4 289.9 L736.6 289.9 L740.6 305.8 L746.8 308 L750.1 310.6 L753.4 299 L757.1 311.3 L760.3 305.6 L762.1 306.4 L764.2 308 L770.7 118.9 L774.8 135 L777.8 135.9 L781.3 130.2 L787.9 130.2 L791 145.1 L795 146.9 L798 138.1 L805 136.8 L808.6 162.7 L812.1 152.6 L818.2 153.5 L822.6 144.7 L829.2 146.2 L832.8 156.25 L835.9 143.75 L843.4 143.75 L846.9 163.3 L850 162.1 L856.25 163.3 L860.5 150.8 L864.1 164.1 L866.8 163.7 L871.1 157.8 L874.2 157 L880.5 152.7 L887.5 153.1 L891.4 142.6 L895.3 146.9 L898 155.9 L901.6 155.1 L905.5 166.8 L911 166.4 L914.8 158.2 L918.5 149.5 L922 147.3 L925.5 156.25 L929.4 159.8 L933.3 160.2 L936.4 156.6 L939.5 157.8 L943 169.1 L945.8 149.2 L949.7 148.4 L954.4 168.4 L957.1 168.4 L960.2 149 L963.75 166.4 L967 143.5 L972.9 144.2 L976.9 148.1 L980.5 147.8 L987.7 165.2 L991.4 150.4 L994 151.1 L998.3 158 L1001.9 156 L1004.9 75.4 L1009.5 96.5" fill="none" stroke="#16c784" stroke-width="3.5" stroke-linejoin="round" stroke-linecap="round" clip-path="url(#la)"/>
<path d="M14.6 373.6 L17.3 373 L20.7 412.7 L23.9 412.7 L27 355.2 L33.5 355.5 L37.7 337.3 L44.5 337.3 L48.3 342.5 L51.7 220 L58.2 220 L61.8 378.4 L65 379.7 L68.4 381.9 L72 390.6 L75.9 372 L78.6 370.6 L82.3 371.4 L85.8 370.7 L92.6 370 L96.1 369.8 L99.5 367 L103.4 368 L106.8 367.4 L110.7 367.4 L113.2 391.5 L117.5 391.2 L123.75 392.4 L130.6 390.8 L134.2 378.5 L136 378 L140.6 378 L144.5 367.5 L148.4 367.5 L151.3 386.5 L155 386.3 L158.9 386.8 L161.4 380.6 L165.3 380.4 L168.4 371.3 L171.9 385.2 L175.4 369.8 L182.4 392.3 L185.2 370.2 L189.8 370.2 L193 381.3 L197.5 376.6 L201.2 375 L203.3 372.8 L206 372.5 L209.5 371.8 L211.2 373.5 L216 389 L218.4 389.5 L220.8 389 L224.5 376 L229.6 376 L232.9 381.5 L236.4 382.6 L240.4 389.6 L244.5 381 L247.6 380.6 L251.5 389.6 L254.8 389.6 L257.4 373.3 L260.2 371.8 L264.9 354.3 L271.5 364.2 L274.8 326.6 L282 325.6 L286 328.6 L289.3 328.5 L293.2 331.2 L295.8 331.5 L299.1 306.6 L303.1 306.6 L305.7 324.6 L312.3 323.3 L316.3 353.6 L319.6 355 L326.6 379.8 L332.8 380 L337.5 379.5 L340.6 356.4 L343.75 357.6 L347.7 356 L353.9 355 L357.8 361 L361 362.5 L364.8 361 L368 356.4 L375 356.4 L378.5 375.6 L385.2 364.8 L388.5 375 L392.2 372.6 L395.7 379.6 L399.1 352 L402.5 358.8 L406.3 357.2 L412.5 358.6 L416.1 369.7 L420 370.8 L423.1 360.5 L426.5 378.3 L429.4 378 L432.5 378.8 L438.2 378.5 L440.4 356.3 L443.5 373 L449.5 373.3 L452 372.3 L456 369.5 L458 369.2 L461.1 375 L464.7 368.5 L470.3 368.6 L474.7 359 L478.2 359.5 L485.2 361.6 L488.3 353.3 L491.3 360 L498.4 359.6 L502.8 349 L506.3 345.3 L509.8 345.5 L512.9 166.6 L515.8 166.2 L523.3 170.5 L526.3 168.9 L529.9 169.3 L533.6 371.8 L539.5 332.8 L547.4 332.8 L550.9 280 L554 155.8 L561.5 158 L563.7 250.5 L567.3 251.2 L571 274.7 L577.7 267.5 L581.6 285.2 L583.8 290.3 L588.1 310.3 L598.6 310.4 L602.1 326.8 L605.6 313.6 L612.7 312.6 L616.6 314 L619.3 324.8 L625.9 309.2 L629.5 325.6 L633 304.2 L636.9 304.2 L640 322.9 L643.1 316.5 L647 318 L653.3 318.8 L657.2 316 L660.7 320.9 L667.8 321.8 L671.7 320.2 L674.5 302.3 L680.5 303.6 L684.8 299.6 L688.1 300.3 L691.4 300.4 L695.3 309.8 L698.3 299.9 L701.4 299.5 L705.9 296.8 L709.2 297.2 L712.3 301.1 L715.9 297.6 L721.7 299.5 L725.6 306.6 L729.9 308.1 L733.4 289.9 L736.6 289.9 L740.6 305.8 L746.8 308 L750.1 310.6 L753.4 299 L757.1 311.3 L760.3 305.6 L762.1 306.4 L764.2 308 L770.7 118.9 L774.8 135 L777.8 135.9 L781.3 130.2 L787.9 130.2 L791 145.1 L795 146.9 L798 138.1 L805 136.8 L808.6 162.7 L812.1 152.6 L818.2 153.5 L822.6 144.7 L829.2 146.2 L832.8 156.25 L835.9 143.75 L843.4 143.75 L846.9 163.3 L850 162.1 L856.25 163.3 L860.5 150.8 L864.1 164.1 L866.8 163.7 L871.1 157.8 L874.2 157 L880.5 152.7 L887.5 153.1 L891.4 142.6 L895.3 146.9 L898 155.9 L901.6 155.1 L905.5 166.8 L911 166.4 L914.8 158.2 L918.5 149.5 L922 147.3 L925.5 156.25 L929.4 159.8 L933.3 160.2 L936.4 156.6 L939.5 157.8 L943 169.1 L945.8 149.2 L949.7 148.4 L954.4 168.4 L957.1 168.4 L960.2 149 L963.75 166.4 L967 143.5 L972.9 144.2 L976.9 148.1 L980.5 147.8 L987.7 165.2 L991.4 150.4 L994 151.1 L998.3 158 L1001.9 156 L1004.9 75.4 L1009.5 96.5" fill="none" stroke="#ea3943" stroke-width="3.5" stroke-linejoin="round" stroke-linecap="round" clip-path="url(#lb)"/>
<g fill="#b4b6bb"><rect x="13.7" y="374.15" width="1.7" height="1.7"/><rect x="20.52" y="374.15" width="1.7" height="1.7"/><rect x="27.35" y="374.15" width="1.7" height="1.7"/><rect x="34.18" y="374.15" width="1.7" height="1.7"/><rect x="41" y="374.15" width="1.7" height="1.7"/><rect x="47.82" y="374.15" width="1.7" height="1.7"/><rect x="54.65" y="374.15" width="1.7" height="1.7"/><rect x="61.48" y="374.15" width="1.7" height="1.7"/><rect x="68.3" y="374.15" width="1.7" height="1.7"/><rect x="75.13" y="374.15" width="1.7" height="1.7"/><rect x="81.95" y="374.15" width="1.7" height="1.7"/><rect x="88.78" y="374.15" width="1.7" height="1.7"/><rect x="95.6" y="374.15" width="1.7" height="1.7"/><rect x="102.43" y="374.15" width="1.7" height="1.7"/><rect x="109.25" y="374.15" width="1.7" height="1.7"/><rect x="116.08" y="374.15" width="1.7" height="1.7"/><rect x="122.9" y="374.15" width="1.7" height="1.7"/><rect x="129.73" y="374.15" width="1.7" height="1.7"/><rect x="136.55" y="374.15" width="1.7" height="1.7"/><rect x="143.38" y="374.15" width="1.7" height="1.7"/><rect x="150.2" y="374.15" width="1.7" height="1.7"/><rect x="157.03" y="374.15" width="1.7" height="1.7"/><rect x="163.85" y="374.15" width="1.7" height="1.7"/><rect x="170.68" y="374.15" width="1.7" height="1.7"/><rect x="177.5" y="374.15" width="1.7" height="1.7"/><rect x="184.33" y="374.15" width="1.7" height="1.7"/><rect x="191.15" y="374.15" width="1.7" height="1.7"/><rect x="197.98" y="374.15" width="1.7" height="1.7"/><rect x="204.8" y="374.15" width="1.7" height="1.7"/><rect x="211.63" y="374.15" width="1.7" height="1.7"/><rect x="218.45" y="374.15" width="1.7" height="1.7"/><rect x="225.28" y="374.15" width="1.7" height="1.7"/><rect x="232.1" y="374.15" width="1.7" height="1.7"/><rect x="238.93" y="374.15" width="1.7" height="1.7"/><rect x="245.75" y="374.15" width="1.7" height="1.7"/><rect x="252.58" y="374.15" width="1.7" height="1.7"/><rect x="259.4" y="374.15" width="1.7" height="1.7"/><rect x="266.22" y="374.15" width="1.7" height="1.7"/><rect x="273.05" y="374.15" width="1.7" height="1.7"/><rect x="279.88" y="374.15" width="1.7" height="1.7"/><rect x="286.7" y="374.15" width="1.7" height="1.7"/><rect x="293.52" y="374.15" width="1.7" height="1.7"/><rect x="300.35" y="374.15" width="1.7" height="1.7"/><rect x="307.18" y="374.15" width="1.7" height="1.7"/><rect x="314" y="374.15" width="1.7" height="1.7"/><rect x="320.82" y="374.15" width="1.7" height="1.7"/><rect x="327.65" y="374.15" width="1.7" height="1.7"/><rect x="334.48" y="374.15" width="1.7" height="1.7"/><rect x="341.3" y="374.15" width="1.7" height="1.7"/><rect x="348.12" y="374.15" width="1.7" height="1.7"/><rect x="354.95" y="374.15" width="1.7" height="1.7"/><rect x="361.77" y="374.15" width="1.7" height="1.7"/><rect x="368.6" y="374.15" width="1.7" height="1.7"/><rect x="375.43" y="374.15" width="1.7" height="1.7"/><rect x="382.25" y="374.15" width="1.7" height="1.7"/><rect x="389.07" y="374.15" width="1.7" height="1.7"/><rect x="395.9" y="374.15" width="1.7" height="1.7"/><rect x="402.73" y="374.15" width="1.7" height="1.7"/><rect x="409.55" y="374.15" width="1.7" height="1.7"/><rect x="416.38" y="374.15" width="1.7" height="1.7"/><rect x="423.2" y="374.15" width="1.7" height="1.7"/><rect x="430.02" y="374.15" width="1.7" height="1.7"/><rect x="436.85" y="374.15" width="1.7" height="1.7"/><rect x="443.68" y="374.15" width="1.7" height="1.7"/><rect x="450.5" y="374.15" width="1.7" height="1.7"/><rect x="457.32" y="374.15" width="1.7" height="1.7"/><rect x="464.15" y="374.15" width="1.7" height="1.7"/><rect x="470.98" y="374.15" width="1.7" height="1.7"/><rect x="477.8" y="374.15" width="1.7" height="1.7"/><rect x="484.62" y="374.15" width="1.7" height="1.7"/><rect x="491.45" y="374.15" width="1.7" height="1.7"/><rect x="498.27" y="374.15" width="1.7" height="1.7"/><rect x="505.1" y="374.15" width="1.7" height="1.7"/><rect x="511.92" y="374.15" width="1.7" height="1.7"/><rect x="518.75" y="374.15" width="1.7" height="1.7"/><rect x="525.57" y="374.15" width="1.7" height="1.7"/><rect x="532.4" y="374.15" width="1.7" height="1.7"/><rect x="539.22" y="374.15" width="1.7" height="1.7"/><rect x="546.05" y="374.15" width="1.7" height="1.7"/><rect x="552.88" y="374.15" width="1.7" height="1.7"/><rect x="559.7" y="374.15" width="1.7" height="1.7"/><rect x="566.52" y="374.15" width="1.7" height="1.7"/><rect x="573.35" y="374.15" width="1.7" height="1.7"/><rect x="580.17" y="374.15" width="1.7" height="1.7"/><rect x="587" y="374.15" width="1.7" height="1.7"/><rect x="593.82" y="374.15" width="1.7" height="1.7"/><rect x="600.65" y="374.15" width="1.7" height="1.7"/><rect x="607.47" y="374.15" width="1.7" height="1.7"/><rect x="614.3" y="374.15" width="1.7" height="1.7"/><rect x="621.12" y="374.15" width="1.7" height="1.7"/><rect x="627.95" y="374.15" width="1.7" height="1.7"/><rect x="634.77" y="374.15" width="1.7" height="1.7"/><rect x="641.6" y="374.15" width="1.7" height="1.7"/><rect x="648.42" y="374.15" width="1.7" height="1.7"/><rect x="655.25" y="374.15" width="1.7" height="1.7"/><rect x="662.07" y="374.15" width="1.7" height="1.7"/><rect x="668.9" y="374.15" width="1.7" height="1.7"/><rect x="675.72" y="374.15" width="1.7" height="1.7"/><rect x="682.55" y="374.15" width="1.7" height="1.7"/><rect x="689.38" y="374.15" width="1.7" height="1.7"/><rect x="696.2" y="374.15" width="1.7" height="1.7"/><rect x="703.02" y="374.15" width="1.7" height="1.7"/><rect x="709.85" y="374.15" width="1.7" height="1.7"/><rect x="716.67" y="374.15" width="1.7" height="1.7"/><rect x="723.5" y="374.15" width="1.7" height="1.7"/><rect x="730.32" y="374.15" width="1.7" height="1.7"/><rect x="737.15" y="374.15" width="1.7" height="1.7"/><rect x="743.97" y="374.15" width="1.7" height="1.7"/><rect x="750.8" y="374.15" width="1.7" height="1.7"/><rect x="757.62" y="374.15" width="1.7" height="1.7"/><rect x="764.45" y="374.15" width="1.7" height="1.7"/><rect x="771.27" y="374.15" width="1.7" height="1.7"/><rect x="778.1" y="374.15" width="1.7" height="1.7"/><rect x="784.92" y="374.15" width="1.7" height="1.7"/><rect x="791.75" y="374.15" width="1.7" height="1.7"/><rect x="798.57" y="374.15" width="1.7" height="1.7"/><rect x="805.4" y="374.15" width="1.7" height="1.7"/><rect x="812.22" y="374.15" width="1.7" height="1.7"/><rect x="819.05" y="374.15" width="1.7" height="1.7"/><rect x="825.88" y="374.15" width="1.7" height="1.7"/><rect x="832.7" y="374.15" width="1.7" height="1.7"/><rect x="839.52" y="374.15" width="1.7" height="1.7"/><rect x="846.35" y="374.15" width="1.7" height="1.7"/><rect x="853.17" y="374.15" width="1.7" height="1.7"/><rect x="860" y="374.15" width="1.7" height="1.7"/><rect x="866.82" y="374.15" width="1.7" height="1.7"/><rect x="873.65" y="374.15" width="1.7" height="1.7"/><rect x="880.47" y="374.15" width="1.7" height="1.7"/><rect x="887.3" y="374.15" width="1.7" height="1.7"/><rect x="894.12" y="374.15" width="1.7" height="1.7"/><rect x="900.95" y="374.15" width="1.7" height="1.7"/><rect x="907.77" y="374.15" width="1.7" height="1.7"/><rect x="914.6" y="374.15" width="1.7" height="1.7"/><rect x="921.42" y="374.15" width="1.7" height="1.7"/><rect x="928.25" y="374.15" width="1.7" height="1.7"/><rect x="935.07" y="374.15" width="1.7" height="1.7"/><rect x="941.9" y="374.15" width="1.7" height="1.7"/><rect x="948.72" y="374.15" width="1.7" height="1.7"/><rect x="955.55" y="374.15" width="1.7" height="1.7"/><rect x="962.38" y="374.15" width="1.7" height="1.7"/><rect x="969.2" y="374.15" width="1.7" height="1.7"/><rect x="976.02" y="374.15" width="1.7" height="1.7"/><rect x="982.85" y="374.15" width="1.7" height="1.7"/><rect x="989.67" y="374.15" width="1.7" height="1.7"/><rect x="996.5" y="374.15" width="1.7" height="1.7"/><rect x="1003.32" y="374.15" width="1.7" height="1.7"/></g>
<g fill="none" stroke-width="1.2">
<path d="M12.95 16.2 V611.9 H1011.05 V16.2" stroke="#2e333e"/>
<path d="M12.4 16.2 H1011.6" stroke="#474d58"/>
</g>
<g class="t"><text transform="translate(137.2 645.6) scale(1 1.07)" text-anchor="middle" font-size="18.7">4:00 AM</text><text transform="translate(302.7 645.6) scale(1 1.07)" text-anchor="middle" font-size="18.7">8:00 AM</text><text transform="translate(468.5 645.6) scale(1 1.07)" text-anchor="middle" font-size="18.7">12:00 PM</text><text transform="translate(633 645.6) scale(1 1.07)" text-anchor="middle" font-size="18.7">4:00 PM</text><text transform="translate(798.2 645.6) scale(1 1.07)" text-anchor="middle" font-size="18.7">8:00 PM</text><text transform="translate(964.5 645.6) scale(1 1.07)" text-anchor="middle" font-size="18.7">15 Nov</text></g>
</svg>
</body></html>
